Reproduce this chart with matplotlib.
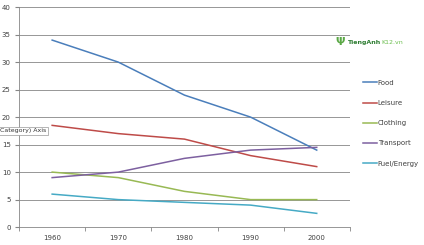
import matplotlib.pyplot as plt

# data
years = ['1960', '1970', '1980', '1990', '2000']
food = [34, 30, 24, 20, 14]
leisure = [18.5, 17, 16, 13, 11]
clothing = [10, 9, 6.5, 5, 5]
transport = [9, 10, 12.5, 14, 14.5]
fuel = [6, 5, 4.5, 4, 2.5]

series = [
    ('Food', food, '#4A7EBB'),
    ('Leisure', leisure, '#BE4B48'),
    ('Clothing', clothing, '#98B954'),
    ('Transport', transport, '#7D60A0'),
    ('Fuel/Energy', fuel, '#46AAC5'),
]

fig = plt.figure(figsize=(4.24, 2.45), dpi=100)
ax = fig.add_axes([0.045, 0.073, 0.78, 0.898])

x = range(len(years))
for name, vals, col in series:
    ax.plot(x, vals, color=col, lw=1.1, label=name)

ax.set_xlim(-0.5, len(years) - 0.5)
ax.set_ylim(0, 40)
ax.set_yticks(range(0, 41, 5))
ax.set_xticks(list(x))
ax.set_xticklabels(years)
ax.set_xticks([i - 0.5 for i in range(len(years) + 1)], minor=True)
ax.tick_params(axis='x', which='major', length=0, labelsize=5, colors='#404040', pad=6)
ax.tick_params(axis='x', which='minor', length=3, color='#868686', direction='out')
ax.tick_params(axis='y', length=3, labelsize=5, colors='#404040', color='#868686', pad=3)
ax.grid(axis='y', color='#868686', lw=0.6)
ax.set_axisbelow(True)
for s in ['top', 'right']:
    ax.spines[s].set_visible(False)
for s in ['left', 'bottom']:
    ax.spines[s].set_color('#868686')
    ax.spines[s].set_linewidth(0.6)

# legend on the right
fig.legend(loc='center left', bbox_to_anchor=(0.857, 0.497), frameon=False,
           fontsize=5, labelspacing=2.05, handlelength=1.9, handletextpad=0.15,
           borderaxespad=0, borderpad=0, labelcolor='#404040')

# tooltip artefact from the source screenshot
fig.text(0.0, 0.467, 'Category) Axis', fontsize=4.5, color='#333333', va='center',
         bbox=dict(boxstyle='square,pad=0.25', fc='white', ec='#999999', lw=0.5))

# watermark logo
fig.text(0.79, 0.83, '\u03a8', fontsize=8, color='#5aa845', fontweight='bold', va='center')
fig.text(0.818, 0.826, 'TiengAnh', fontsize=4.5, color='#2e7d32', fontweight='bold', va='center')
fig.text(0.9, 0.826, 'K12.vn', fontsize=4.5, color='#6cbf4f', va='center')

fig.savefig('out.png', dpi=100)
